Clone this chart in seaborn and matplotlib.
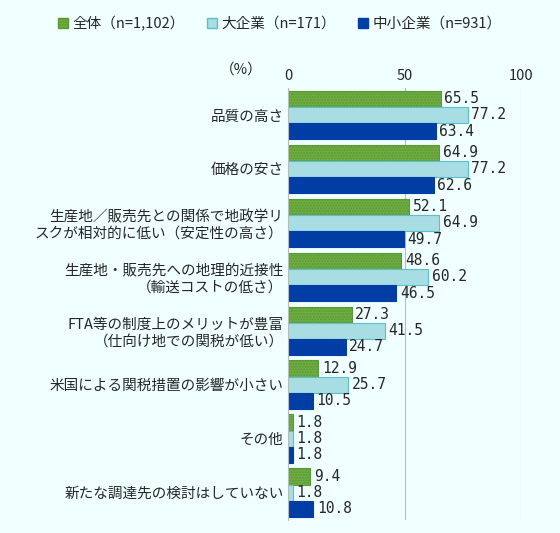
import numpy as np
import pandas as pd
import matplotlib
matplotlib.use("Agg")
import matplotlib.pyplot as plt
import seaborn as sns
from matplotlib.patches import Patch

categories = ["品質の高さ", "価格の安さ", "生産地／販売先との関係で地政学リ\nスクが相対的に低い（安定性の高さ）",
              "生産地・販売先への地理的近接性\n（輸送コストの低さ）", "FTA等の制度上のメリットが豊富\n（仕向け地での関税が低い）",
              "米国による関税措置の影響が小さい", "その他", "新たな調達先の検討はしていない"]
series = ["全体（n=1,102）", "大企業（n=171）", "中小企業（n=931）"]
all_vals = [65.5, 64.9, 52.1, 48.6, 27.3, 12.9, 1.8, 9.4]
large_vals = [77.2, 77.2, 64.9, 60.2, 41.5, 25.7, 1.8, 1.8]
sme_vals = [63.4, 62.6, 49.7, 46.5, 24.7, 10.5, 1.8, 10.8]
colors = ["#70AD47", "#A8DDE3", "#003DA5"]
edges = ["#5A9A2E", "#5BC0CC", "#003DA5"]

df = pd.DataFrame({
    "cat": categories * 3,
    "series": sum([[s] * len(categories) for s in series], []),
    "val": all_vals + large_vals + sme_vals,
})

sns.set_style("white")
plt.rcParams['font.family'] = ['Noto Sans CJK JP', 'DejaVu Sans']
plt.rcParams['hatch.color'] = "#3E7F1C"
bg = "#F0FFFF"
fig = plt.figure(figsize=(5.6, 5.33), dpi=100, facecolor=bg)
ax = fig.add_axes([0.515, 0.025, 0.415, 0.81], facecolor=bg)
sns.barplot(data=df, y="cat", x="val", hue="series", palette=colors, orient="h",
            width=0.9, ax=ax, legend=False, saturation=1)

for i, cont in enumerate(ax.containers):
    for bar, v in zip(cont, [all_vals, large_vals, sme_vals][i]):
        bar.set_edgecolor(edges[i])
        bar.set_linewidth(0.8)
        if i == 0:
            bar.set_hatch("......")
        ax.text(bar.get_width() + 1.5, bar.get_y() + bar.get_height() / 2, f"{v:.1f}",
                va="center", ha="left", fontsize=10.5, family="DejaVu Sans Mono")

ax.set_xlim(0, 100)
ax.set_xticks([0, 50, 100])
ax.xaxis.tick_top()
ax.tick_params(axis="x", length=0, labelsize=10.5)
ax.tick_params(axis="y", length=0, labelsize=10.5)
ax.set_xlabel("")
ax.set_ylabel("")
ax.grid(axis="x", color="#BBBBBB", linewidth=0.8)
ax.set_axisbelow(True)
for s in ["top", "right", "bottom"]:
    ax.spines[s].set_visible(False)
ax.spines["left"].set_color("#BBBBBB")
fig.text(0.43, 0.862, "（%）", fontsize=10.5, ha="center")

handles = [Patch(facecolor=colors[i], edgecolor=edges[i], hatch="......" if i == 0 else None) for i in range(3)]
fig.legend(handles, series, loc="upper center", bbox_to_anchor=(0.5, 0.995), ncol=3, frameon=False,
           fontsize=10.5, handlelength=0.7, handleheight=0.7, handletextpad=0.3, columnspacing=1.5)
fig.savefig("out.png", dpi=100, facecolor=bg)
